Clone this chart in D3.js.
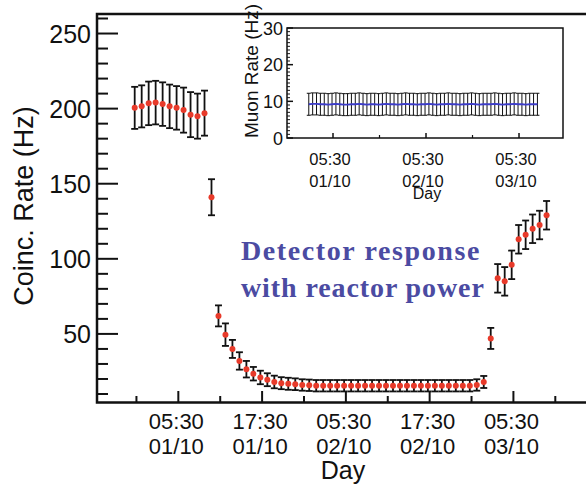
<!DOCTYPE html>
<html>
<head>
<meta charset="utf-8">
<script src="https://cdn.jsdelivr.net/npm/d3@7"></script>
<style>
  body { margin: 0; background: #fff; }
  svg { display: block; }
  text { font-family: "Liberation Sans", Arial, sans-serif; fill: #111; }
</style>
</head>
<body>
<div id="chart"></div>
<script>
// hourly samples, first one at this time
const startTime = "2012-09-30T23:15";

// coincidence rate (Hz) and its error, one per hour
const coincRate = [200.5, 201.5, 203.5, 204, 203, 201.5, 200.5, 199, 196, 195, 197,
  141,
  62, 49.5, 40, 32, 26.5, 23.5, 21, 19.5, 18, 17.2, 16.8, 16.5,
  16, 15.8, 15.5, 15.5, 15.5, 15.5, 15.5, 15.5, 15.5, 15.5, 15.5, 15.5, 15.5,
  15.5, 15.5, 15.5, 15.5, 15.5, 15.5, 15.5, 15.5, 15.5, 15.5, 15.5, 15.5, 16,
  18,
  47, 87, 85, 96, 113, 116, 120, 122.5, 129];
const coincErr = [14, 14, 14.5, 14.5, 14.5, 14.5, 14.5, 15, 15, 15, 15,
  12,
  7, 7.5, 6, 5.8, 5.5, 4.5, 4.5, 4.3, 4.2, 4, 4, 3.9,
  3.8, 3.8, 3.8, 3.8, 3.8, 3.8, 3.8, 3.8, 3.8, 3.8, 3.8, 3.8, 3.8,
  3.8, 3.8, 3.8, 3.8, 3.8, 3.8, 3.8, 3.8, 3.8, 3.8, 3.8, 3.8, 3.8,
  4,
  7, 9.5, 9.5, 9.5, 9.5, 9.5, 9.5, 9.5, 9.5];

// muon rate (Hz), inset
const muonRate = [9.2, 9.3, 9.3, 9.2, 9.2, 9.1, 9.2, 9.3, 9.2, 9.1, 9.1, 9.2,
  9.2, 9.3, 9.2, 9.1, 9.2, 9.2, 9.1, 9.2, 9.3, 9.2, 9.2, 9.1, 9.2, 9.3,
  9.2, 9.2, 9.1, 9.2, 9.2, 9.3, 9.2, 9.1, 9.2, 9.2, 9.3, 9.2, 9.2, 9.1,
  9.2, 9.2, 9.3, 9.2, 9.1, 9.2, 9.2, 9.2, 9.3, 9.2, 9.1, 9.2, 9.2, 9.3,
  9.2, 9.2, 9.1, 9.2, 9.2, 9.2];
const muonErr = 3;

// tick labels
const mainTicks = ["2012-10-01T05:30", "2012-10-01T17:30", "2012-10-02T05:30", "2012-10-02T17:30", "2012-10-03T05:30"];
const mainMinor = ["2012-09-30T23:30", "2012-10-01T11:30", "2012-10-01T23:30", "2012-10-02T11:30", "2012-10-02T23:30", "2012-10-03T11:30"];
const insetTicks = ["2012-10-01T05:30", "2012-10-02T05:30", "2012-10-03T05:30"];
const insetMinor = ["2012-09-30T17:30", "2012-10-01T17:30", "2012-10-02T17:30", "2012-10-03T17:30"];
const yTicks = [50, 100, 150, 200, 250];
const insetYTicks = [0, 10, 20, 30];

const parse = d3.timeParse("%Y-%m-%dT%H:%M");
const fmtTime = d3.timeFormat("%H:%M");
const fmtDay = d3.timeFormat("%d/%m");
const t0 = parse("2012-10-01T05:30");
const start = parse(startTime);
const hrs = h => new Date(t0.getTime() + h * 3600e3);

const rows = coincRate.map((v, i) => ({ t: d3.timeHour.offset(start, i), v: v, e: coincErr[i] }));
const muRows = muonRate.map((v, i) => ({ t: d3.timeHour.offset(start, i), v: v, e: muonErr }));

const W = 586, H = 484;
const svg = d3.select("#chart").append("svg").attr("width", W).attr("height", H);

// main scales
const x = d3.scaleTime().domain([hrs(-11.65), hrs(58.97)]).range([97, 590]);
const y = d3.scaleLinear().domain([4, 263]).range([403, 14]);

// frame
svg.append("path")
  .attr("d", `M590,14H97V402.5H590`)
  .attr("fill", "none").attr("stroke", "#111").attr("stroke-width", 2.5);

// y ticks
const yMinor = d3.range(10, 261, 10).filter(d => d % 50 !== 0);
svg.selectAll(".ymin").data(yMinor).enter().append("line")
  .attr("x1", 97).attr("x2", 108).attr("y1", d => y(d)).attr("y2", d => y(d))
  .attr("stroke", "#111").attr("stroke-width", 2);
svg.selectAll(".ymaj").data(yTicks).enter().append("line")
  .attr("x1", 97).attr("x2", 118).attr("y1", d => y(d)).attr("y2", d => y(d))
  .attr("stroke", "#111").attr("stroke-width", 2);
svg.selectAll(".ylab").data(yTicks).enter().append("text")
  .attr("x", 91).attr("y", d => y(d) + 9)
  .attr("text-anchor", "end").style("font-size", "25px")
  .text(d => d);

// x ticks
svg.selectAll(".xmin").data(mainMinor.map(parse)).enter().append("line")
  .attr("x1", d => x(d)).attr("x2", d => x(d)).attr("y1", 402).attr("y2", 396)
  .attr("stroke", "#111").attr("stroke-width", 2);
svg.selectAll(".xmaj").data(mainTicks.map(parse)).enter().append("line")
  .attr("x1", d => x(d)).attr("x2", d => x(d)).attr("y1", 402).attr("y2", 391)
  .attr("stroke", "#111").attr("stroke-width", 2);
const xl = svg.selectAll(".xlab").data(mainTicks.map(parse)).enter().append("text")
  .attr("text-anchor", "middle").style("font-size", "22px");
xl.append("tspan").attr("x", d => x(d) - 2).attr("y", 429).text(d => fmtTime(d));
xl.append("tspan").attr("x", d => x(d) - 2).attr("y", 454).text(d => fmtDay(d));

svg.append("text").attr("x", 343).attr("y", 479).attr("text-anchor", "middle")
  .style("font-size", "25px").text("Day");
svg.append("text").attr("transform", "translate(33,206) rotate(-90)")
  .attr("text-anchor", "middle").style("font-size", "27px").text("Coinc. Rate (Hz)");

// error bars and points
const bars = svg.append("g").attr("stroke", "#111").attr("stroke-width", 1.8);
rows.forEach(d => {
  const cx = x(d.t), yt = y(d.v + d.e), yb = y(d.v - d.e);
  bars.append("line").attr("x1", cx).attr("x2", cx).attr("y1", yt).attr("y2", yb);
  bars.append("line").attr("x1", cx - 3.5).attr("x2", cx + 3.5).attr("y1", yt).attr("y2", yt);
  bars.append("line").attr("x1", cx - 3.5).attr("x2", cx + 3.5).attr("y1", yb).attr("y2", yb);
});
svg.append("g").selectAll("circle").data(rows).enter().append("circle")
  .attr("cx", d => x(d.t)).attr("cy", d => y(d.v)).attr("r", 3)
  .attr("fill", "#e83a2a");

// annotation
const note = svg.append("text")
  .style("font-family", "'Liberation Serif', 'Times New Roman', serif")
  .style("font-weight", "bold").style("font-size", "28px")
  .style("fill", "#4b4ba2");
note.append("tspan").attr("x", 241).attr("y", 260)
  .style("letter-spacing", "1.6px").text("Detector response");
note.append("tspan").attr("x", 241).attr("y", 297)
  .style("letter-spacing", "0.9px").text("with reactor power");

// inset
const ix = d3.scaleTime().domain([hrs(-11.87), hrs(59.35)]).range([287, 563]);
const iy = d3.scaleLinear().domain([0, 30]).range([138, 28]);

svg.append("rect").attr("x", 287).attr("y", 28).attr("width", 276).attr("height", 110)
  .attr("fill", "#fff").attr("stroke", "#111").attr("stroke-width", 1.5);

svg.selectAll(".iymin").data(d3.range(1, 30).filter(d => d % 10 !== 0)).enter().append("line")
  .attr("x1", 287).attr("x2", 290).attr("y1", d => iy(d)).attr("y2", d => iy(d))
  .attr("stroke", "#111").attr("stroke-width", 1);
svg.selectAll(".iymaj").data(insetYTicks).enter().append("line")
  .attr("x1", 287).attr("x2", 293).attr("y1", d => iy(d)).attr("y2", d => iy(d))
  .attr("stroke", "#111").attr("stroke-width", 1.5);
svg.selectAll(".iylab").data(insetYTicks).enter().append("text")
  .attr("x", 283).attr("y", d => iy(d) + 6.5)
  .attr("text-anchor", "end").style("font-size", "18px").text(d => d);

svg.selectAll(".ixmin").data(insetMinor.map(parse).filter(d => ix(d) > 288 && ix(d) < 562)).enter().append("line")
  .attr("x1", d => ix(d)).attr("x2", d => ix(d)).attr("y1", 138).attr("y2", 135)
  .attr("stroke", "#111").attr("stroke-width", 1.2);
svg.selectAll(".ixmaj").data(insetTicks.map(parse)).enter().append("line")
  .attr("x1", d => ix(d)).attr("x2", d => ix(d)).attr("y1", 138).attr("y2", 133)
  .attr("stroke", "#111").attr("stroke-width", 1.5);
const ixl = svg.selectAll(".ixlab").data(insetTicks.map(parse)).enter().append("text")
  .attr("text-anchor", "middle").style("font-size", "16.5px");
ixl.append("tspan").attr("x", d => ix(d) - 3).attr("y", 165).text(d => fmtTime(d));
ixl.append("tspan").attr("x", d => ix(d) - 3).attr("y", 187).text(d => fmtDay(d));
svg.append("text").attr("x", 427).attr("y", 199).attr("text-anchor", "middle")
  .style("font-size", "16px").text("Day");
svg.append("text").attr("transform", "translate(258,71) rotate(-90)")
  .attr("text-anchor", "middle").style("font-size", "19px").text("Muon Rate (Hz)");

const ibars = svg.append("g").attr("stroke", "#111").attr("stroke-width", 1);
muRows.forEach(d => {
  const cx = ix(d.t), yt = iy(d.v + d.e), yb = iy(d.v - d.e);
  ibars.append("line").attr("x1", cx).attr("x2", cx).attr("y1", yt).attr("y2", yb);
  ibars.append("line").attr("x1", cx - 2).attr("x2", cx + 2).attr("y1", yt).attr("y2", yt);
  ibars.append("line").attr("x1", cx - 2).attr("x2", cx + 2).attr("y1", yb).attr("y2", yb);
});
svg.append("path").datum(muRows)
  .attr("d", d3.line().x(d => ix(d.t)).y(d => iy(d.v)))
  .attr("fill", "none").attr("stroke", "#3c3cc8").attr("stroke-width", 1.8);
</script>
</body>
</html>
